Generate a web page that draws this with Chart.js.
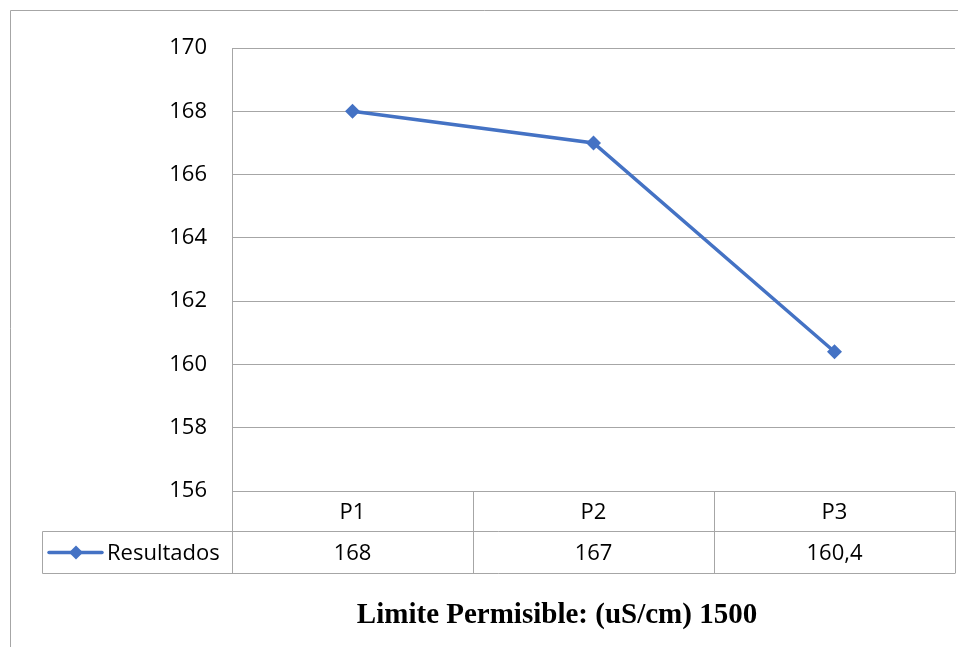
<!DOCTYPE html>
<html>
<head>
<meta charset="utf-8">
<script src="https://cdn.jsdelivr.net/npm/chart.js@4/dist/chart.umd.min.js"></script>
<style>
  html, body { margin: 0; padding: 0; background: #fff; overflow: hidden; }
  canvas { display: block; }
</style>
</head>
<body>
<canvas id="chart" width="958" height="647"></canvas>
<script>
// Conductivity results per sampling point
const categories = ['P1', 'P2', 'P3'];
const resultados = [168, 167, 160.4];
const seriesName = 'Resultados';
const yMin = 156;
const yMax = 170;
const yStep = 2;
const footerTitle = 'Limite Permisible: (uS/cm) 1500';

const BLUE = '#4472C4';
const GRID = '#a6a6a6';
const TEXT = '#000000';
const SANS = '"Open Sans", "Noto Sans", sans-serif';

function fmt(v) { return String(v).replace('.', ','); }

// Frame, data table under the plot and the caption below it
const tablePlugin = {
  id: 'dataTable',
  beforeDraw(chart) {
    const ctx = chart.ctx;
    ctx.save();
    ctx.strokeStyle = GRID;
    ctx.lineWidth = 1;
    ctx.beginPath();
    ctx.moveTo(10.5, chart.height);
    ctx.lineTo(10.5, 10.5);
    ctx.lineTo(chart.width, 10.5);
    ctx.stroke();
    ctx.restore();
  },
  afterDraw(chart) {
    const ctx = chart.ctx;
    const area = chart.chartArea;
    const xs = chart.scales.x;
    const n = categories.length;
    const colW = (area.right - area.left) / n;
    const top = Math.round(area.bottom) + 0.5;
    const mid = top + 40;
    const bot = mid + 42;
    const legendLeft = 42.5;

    ctx.save();
    ctx.strokeStyle = GRID;
    ctx.lineWidth = 1;
    ctx.beginPath();
    ctx.moveTo(area.left, top); ctx.lineTo(area.right, top);
    ctx.moveTo(legendLeft, mid); ctx.lineTo(area.right, mid);
    ctx.moveTo(legendLeft, bot); ctx.lineTo(area.right, bot);
    ctx.moveTo(legendLeft, mid); ctx.lineTo(legendLeft, bot);
    for (let i = 0; i <= n; i++) {
      const bx = Math.round(area.left + i * colW) + 0.5;
      ctx.moveTo(bx, top); ctx.lineTo(bx, bot);
    }
    ctx.stroke();

    // category headers and values
    ctx.fillStyle = TEXT;
    ctx.font = '22px ' + SANS;
    ctx.textAlign = 'center';
    ctx.textBaseline = 'middle';
    categories.forEach((c, i) => {
      const cx = xs.getPixelForValue(i);
      ctx.fillText(c, cx, (top + mid) / 2 + 1);
      ctx.fillText(fmt(resultados[i]), cx, (mid + bot) / 2 + 1);
    });

    // legend key
    const ky = (mid + bot) / 2;
    ctx.strokeStyle = BLUE;
    ctx.lineWidth = 3.5;
    ctx.lineCap = 'round';
    ctx.beginPath();
    ctx.moveTo(49, ky); ctx.lineTo(102, ky);
    ctx.stroke();
    ctx.fillStyle = BLUE;
    ctx.beginPath();
    ctx.moveTo(76, ky - 7); ctx.lineTo(83, ky); ctx.lineTo(76, ky + 7); ctx.lineTo(69, ky);
    ctx.closePath();
    ctx.fill();
    ctx.fillStyle = TEXT;
    ctx.textAlign = 'left';
    ctx.fillText(seriesName, 107, ky + 1);

    // caption
    ctx.font = 'bold 29px "Liberation Serif", "Times New Roman", serif';
    ctx.textAlign = 'center';
    ctx.fillText(footerTitle, 557, 616);
    ctx.restore();
  }
};

new Chart(document.getElementById('chart'), {
  type: 'line',
  data: {
    labels: categories,
    datasets: [{
      label: seriesName,
      data: resultados,
      borderColor: BLUE,
      backgroundColor: BLUE,
      borderWidth: 3.5,
      pointStyle: 'rectRot',
      pointRadius: 7.5,
      pointHoverRadius: 7.5,
      pointBackgroundColor: BLUE,
      pointBorderColor: BLUE,
      pointBorderWidth: 0,
      tension: 0
    }]
  },
  options: {
    responsive: false,
    animation: false,
    devicePixelRatio: 1,
    layout: { autoPadding: false, padding: { left: 0, top: 48, right: 3, bottom: 156 } },
    plugins: { legend: { display: false }, tooltip: { enabled: false }, title: { display: false } },
    scales: {
      x: {
        display: false,
        offset: true
      },
      y: {
        min: yMin,
        max: yMax,
        afterFit(scale) { scale.width = 232; },
        ticks: {
          stepSize: yStep,
          padding: 25,
          color: TEXT,
          font: { family: SANS, size: 22 }
        },
        grid: { color: GRID, lineWidth: 1, drawTicks: false },
        border: { display: true, color: GRID, width: 1 }
      }
    }
  },
  plugins: [tablePlugin]
});
</script>
</body>
</html>
